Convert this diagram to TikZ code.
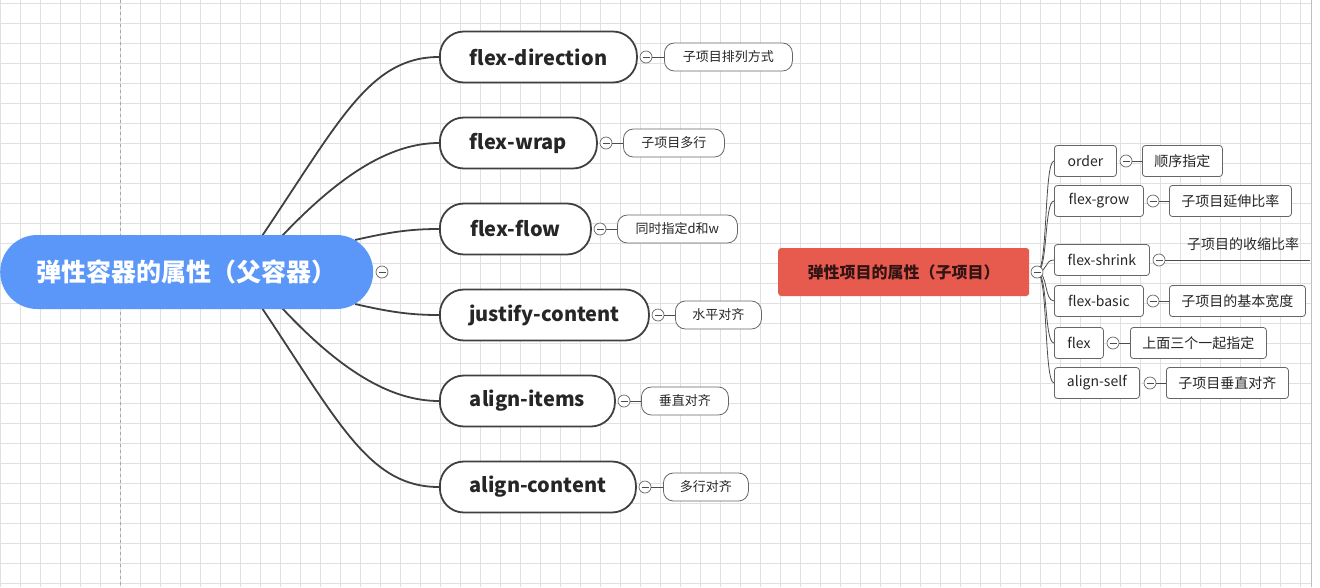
\documentclass[tikz,border=0pt]{standalone}
\usepackage{fontspec}
\setmainfont{Noto Sans CJK SC}
\pgfdeclarelayer{bg}
\pgfsetlayers{bg,main}
\begin{document}
\begin{tikzpicture}[x=1pt,y=-1pt,
 pill/.style={draw=black!75,line width=1.8pt,fill=white,rounded corners=24pt,minimum height=51pt,anchor=west,inner sep=0pt,font=\fontsize{20}{22}\selectfont\bfseries,text=black!85},
 leaf/.style={draw=black!60,line width=0.8pt,fill=white,rounded corners=10pt,minimum height=28pt,anchor=west,inner sep=0pt,font=\fontsize{13}{15}\selectfont,text=black!85},
 sub/.style={draw=black!60,line width=0.8pt,fill=white,rounded corners=3pt,minimum height=31pt,anchor=west,inner sep=0pt,font=\fontsize{14}{16}\selectfont,text=black!85},
 col/.style={circle,draw=black!60,line width=0.7pt,fill=white,minimum size=12pt,inner sep=0pt,path picture={\draw[black!70,line width=0.7pt] ([xshift=-3.5pt]path picture bounding box.center)--([xshift=3.5pt]path picture bounding box.center);}},
 link/.style={draw=black!75,line width=1.8pt},
 thin/.style={draw=black!70,line width=0.8pt}]
\useasboundingbox (0,0) rectangle (1320,587);
\begin{pgfonlayer}{bg}
\fill[white] (0,0) rectangle (1320,587);
\foreach \x in {0,20,...,1300} \draw[black!12,line width=0.6pt] (\x,0)--(\x,587);
\foreach \y in {3,23,...,583} \draw[black!12,line width=0.6pt] (0,\y)--(1312,\y);
\fill[white] (1312,0) rectangle (1320,587);
\draw[black!25,line width=0.8pt] (1311,0)--(1311,587);
\draw[black!35,dashed,line width=0.6pt] (120,0)--(120,587);
\end{pgfonlayer}
% root
\node[fill={rgb,255:red,91;green,151;blue,249},rounded corners=37pt,minimum width=373pt,minimum height=74pt,anchor=west,inner sep=0pt,text=white,font=\fontsize{25}{28}\selectfont\bfseries] (root) at (0,272) {弹性容器的属性（父容器）};
\node[col] (rc) at (382,272) {};
% children
\node[pill,minimum width=197pt] (c1) at (439,57) {flex-direction};
\node[pill,minimum width=157pt] (c2) at (439,143) {flex-wrap};
\node[pill,minimum width=151pt] (c3) at (439,229) {flex-flow};
\node[pill,minimum width=209pt] (c4) at (439,315) {justify-content};
\node[pill,minimum width=175pt] (c5) at (439,401) {align-items};
\node[pill,minimum width=196pt] (c6) at (439,487) {align-content};
\coordinate (s1) at (262,236); \coordinate (s2) at (282,236); \coordinate (s3) at (355,240);
\coordinate (s4) at (355,304); \coordinate (s5) at (282,308); \coordinate (s6) at (262,308);
\begin{pgfonlayer}{bg}
\draw[link] (s1) .. controls (340,120) and (370,57) .. (c1.west);
\draw[link] (s2) .. controls (340,175) and (390,143) .. (c2.west);
\draw[link] (s3) .. controls (390,232) and (410,229) .. (c3.west);
\draw[link] (s4) .. controls (390,312) and (410,315) .. (c4.west);
\draw[link] (s5) .. controls (340,370) and (390,401) .. (c5.west);
\draw[link] (s6) .. controls (340,425) and (370,487) .. (c6.west);
\end{pgfonlayer}
% collapse + leaves
\node[col] (k1) at (646,57) {}; \node[leaf,minimum width=128pt] (l1) at (664,57) {子项目排列方式};
\node[col] (k2) at (606,143) {}; \node[leaf,minimum width=101pt] (l2) at (623,143) {子项目多行};
\node[col] (k3) at (600,229) {}; \node[leaf,minimum width=120pt] (l3) at (617,229) {同时指定d和w};
\node[col] (k4) at (658,315) {}; \node[leaf,minimum width=86pt] (l4) at (675,315) {水平对齐};
\node[col] (k5) at (624,401) {}; \node[leaf,minimum width=87pt] (l5) at (641,401) {垂直对齐};
\node[col] (k6) at (645,487) {}; \node[leaf,minimum width=85pt] (l6) at (663,487) {多行对齐};
\foreach \i in {1,...,6} \draw[thin] (k\i.east)--(l\i.west);
% right
\node[fill={rgb,255:red,231;green,90;blue,78},rounded corners=3pt,minimum width=251pt,minimum height=48pt,anchor=west,inner sep=0pt,text={rgb,255:red,50;green,20;blue,20},font=\fontsize{16}{18}\selectfont\bfseries] (r2) at (778,272) {弹性项目的属性（子项目）};
\node[sub,minimum width=62pt] (d1) at (1054,161) {order};
\node[sub,minimum width=89pt] (d2) at (1054,201) {flex-grow};
\node[sub,minimum width=95pt] (d3) at (1054,260) {flex-shrink};
\node[sub,minimum width=89pt] (d4) at (1054,301) {flex-basic};
\node[sub,minimum width=49pt] (d5) at (1054,343) {flex};
\node[sub,minimum width=85pt] (d6) at (1054,383) {align-self};
\node[col] (rk) at (1037,272) {};
\begin{pgfonlayer}{bg}
\foreach \i in {1,...,6} \draw[thin] (rk.center) .. controls (1048,272) and (1044,0|-d\i.west) .. (d\i.west);
\end{pgfonlayer}
\node[col] (e1) at (1126,161) {}; \node[sub,minimum width=80pt] (f1) at (1142,161) {顺序指定};
\node[col] (e2) at (1153,201) {}; \node[sub,minimum width=122pt] (f2) at (1169,201) {子项目延伸比率};
\node[col] (e3) at (1159,260) {}; \coordinate (f3) at (1310,260);
\node[font=\fontsize{14}{16}\selectfont,text=black!85] (t3) at (1243,244) {子项目的收缩比率};
\node[col] (e4) at (1153,301) {}; \node[sub,minimum width=136pt] (f4) at (1169,301) {子项目的基本宽度};
\node[col] (e5) at (1113,343) {}; \node[sub,minimum width=136pt] (f5) at (1130,343) {上面三个一起指定};
\node[col] (e6) at (1150,383) {}; \node[sub,minimum width=122pt] (f6) at (1166,383) {子项目垂直对齐};
\foreach \i in {1,2,4,5,6} \draw[thin] (e\i.east)--(f\i.west);
\draw[thin] (e3.east)--(f3);
\end{tikzpicture}
\end{document}
